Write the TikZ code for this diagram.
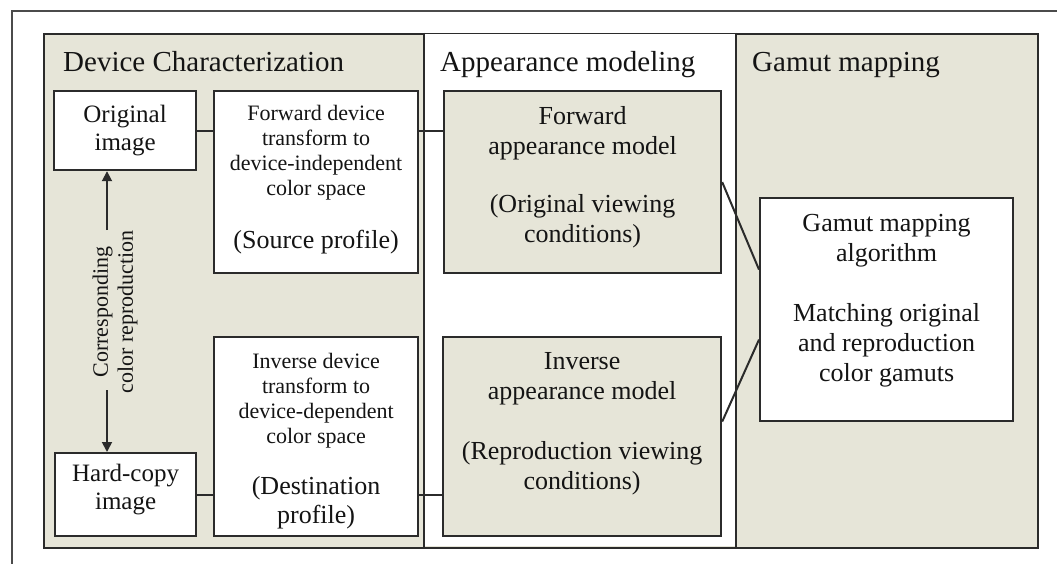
\documentclass[tikz,border=0pt]{standalone}
\usepackage{fontspec}
\setmainfont{Liberation Serif}
\usetikzlibrary{arrows.meta}
\definecolor{beige}{HTML}{E6E5D8}
\definecolor{ink}{HTML}{2B2B2B}
\definecolor{txtc}{HTML}{141414}
\newcommand{\fsz}[2]{\fontsize{#1}{#2}\selectfont}
\begin{document}
\begin{tikzpicture}[x=1pt,y=-1pt,
  boxw/.style={draw=ink, line width=2.2pt, fill=white, inner sep=0pt, anchor=north west},
  boxb/.style={draw=ink, line width=2.2pt, fill=beige, inner sep=0pt, anchor=north west},
  txt/.style={text=txtc, align=center, inner sep=0pt},
  ttl/.style={text=txtc, anchor=base west, inner sep=0pt, font=\fsz{29}{34}},
  conn/.style={draw=ink, line width=2pt},
  arr/.style={draw=ink, line width=1.8pt, -{Triangle[width=10pt,length=10pt]}}]
\useasboundingbox (0,0) rectangle (1057,564);
\fill[white] (0,0) rectangle (1057,564);
% outer frame (partial)
\draw[ink!85, line width=1.3pt] (12,564) -- (12,11) -- (1057,11);
% main panel
\node[boxb, line width=2.4pt, minimum width=994pt, minimum height=514pt] (panel) at (43,33) {};
\fill[white] (424,34) rectangle (736,546);
\draw[ink, line width=2pt] (424,33) -- (424,547);
\draw[ink, line width=2pt] (736,33) -- (736,547);
% titles
\node[ttl] (t1) at (63,72) {Device Characterization};
\node[ttl] (t2) at (440,72) {Appearance modeling};
\node[ttl] (t3) at (752,72) {Gamut mapping};
% boxes
\node[boxw, minimum width=142pt, minimum height=79pt] (orig) at (53,90) {};
\node[boxw, minimum width=204pt, minimum height=182pt] (fdev) at (213,90) {};
\node[boxb, minimum width=277pt, minimum height=182pt] (fam) at (443,90) {};
\node[boxw, minimum width=141pt, minimum height=83pt] (hard) at (54,452) {};
\node[boxw, minimum width=204pt, minimum height=199pt] (idev) at (213,336) {};
\node[boxb, minimum width=278pt, minimum height=199pt] (iam) at (442,336) {};
\node[boxw, minimum width=253pt, minimum height=223pt] (gam) at (759,197) {};
% texts
\node[txt, font=\fsz{25}{28}] (origt) at (orig.center) {Original\\image};
\node[txt, font=\fsz{25}{28}] (hardt) at ([yshift=5pt]hard.center) {Hard-copy\\image};
\node[txt, font=\fsz{22}{25}] (fdevt) at ([yshift=2pt]fdev.center) {Forward device\\transform to\\device-independent\\color space\\[28pt]{\fsz{26}{30}(Source profile)}};
\node[txt, font=\fsz{22}{25}] (idevt) at ([yshift=-4.5pt]idev.center) {Inverse device\\transform to\\device-dependent\\color space\\[26pt]{\fsz{26}{30}(Destination}\\[4pt]{\fsz{26}{30}profile)}};
\node[txt, font=\fsz{26}{30}] (famt) at ([yshift=5pt]fam.center) {Forward\\appearance model\\[28pt](Original viewing\\conditions)};
\node[txt, font=\fsz{26}{30}] (iamt) at ([yshift=13pt]iam.center) {Inverse\\appearance model\\[30pt](Reproduction viewing\\conditions)};
\node[txt, font=\fsz{26}{30}] (gamt) at ([yshift=9pt]gam.center) {Gamut mapping\\algorithm\\[30pt]Matching original\\and reproduction\\color gamuts};
\node[txt, font=\fsz{22}{25}, rotate=90] (corr) at (115,312) {Corresponding\\color reproduction};
% connectors
\draw[conn] (orig.east) -- (orig.east -| fdev.west);
\draw[conn] (fdev.east |- orig.east) -- (fam.west |- orig.east);
\draw[conn] (hard.east) -- (hard.east -| idev.west);
\draw[conn] (idev.east |- hard.east) -- (iam.west |- hard.east);
\draw[conn] (fam.east) -- ([yshift=40pt]gam.west);
\draw[conn] ([yshift=15pt]iam.east) -- ([yshift=-30pt]gam.west);
% corresponding arrows
\coordinate (a1) at (107,230);
\coordinate (a2) at (107,390);
\draw[arr] (a1) -- (a1 |- orig.south);
\draw[arr] (a2) -- (a2 |- hard.north);
\end{tikzpicture}
\end{document}
